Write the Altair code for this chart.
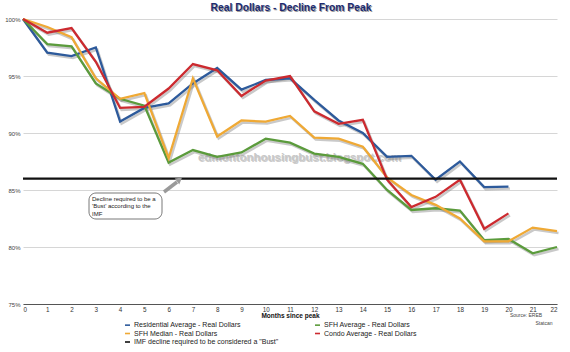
import altair as alt
import pandas as pd

# ---- data ----
title_text = "Real Dollars - Decline From Peak"
name_res = "Residential Average - Real Dollars"
name_sfh_avg = "SFH Average - Real Dollars"
name_sfh_med = "SFH Median  - Real Dollars"
name_condo = "Condo Average - Real Dollars"
name_imf = "IMF decline required to be considered a \"Bust\""

# legend order (filled column by column, two columns)
legend_order = [name_res, name_sfh_med, name_imf, name_sfh_avg, name_condo]
legend_colors = ["#2d5a9b", "#efa935", "#111111", "#5b9b3c", "#cc2a2f"]

residential = [100, 97.05, 96.75, 97.5, 91.0, 92.2, 92.6, 94.35, 95.7, 93.8, 94.65,
               94.8, 92.9, 91.1, 90.0, 87.9, 88.0, 85.9, 87.5, 85.25, 85.3]
sfh_avg = [100, 97.8, 97.6, 94.35, 93.0, 92.4, 87.4, 88.5, 87.9, 88.3, 89.5,
           89.15, 88.2, 87.9, 87.3, 85.0, 83.25, 83.4, 83.2, 80.6, 80.7, 79.45, 80.0]
sfh_median = [100, 99.3, 98.4, 94.8, 93.0, 93.5, 87.8, 94.8, 89.7, 91.1, 91.0,
              91.5, 89.6, 89.5, 88.8, 86.1, 84.56, 83.7, 82.5, 80.5, 80.5, 81.7, 81.4]
condo = [100, 98.8, 99.2, 96.25, 92.2, 92.3, 93.9, 96.05, 95.5, 93.25, 94.6,
         95.0, 91.9, 90.8, 91.15, 85.9, 83.5, 84.4, 85.9, 81.6, 82.95]
imf_level = 86

month_ticks = list(range(23))
y_ticks = [75, 77.5, 80, 82.5, 85, 87.5, 90, 92.5, 95, 97.5, 100]

watermark = "edmontonhousingbust.blogspot.com"
note_lines = ["Decline required to be a", "'Bust' according to the", "IMF"]
source_lines = ["Source: EREB", "Statcan"]

# ---- build table ----
rows = []
for name, vals in [(name_res, residential), (name_sfh_avg, sfh_avg),
                   (name_sfh_med, sfh_median), (name_condo, condo)]:
    for m, v in enumerate(vals):
        rows.append({"series": name, "month": m, "value": v})
df = pd.DataFrame(rows)

FONT = "Liberation Sans"

x_enc = alt.X(
    "month:Q",
    scale=alt.Scale(domain=[0, 22], nice=False),
    axis=alt.Axis(
        values=month_ticks, grid=False, ticks=False, labelFontSize=6.3,
        labelColor="#333", labelPadding=2, domainColor="#555", domainWidth=1,
        title="Months since peak", titleFontSize=6.5, titleFontWeight="bold",
        titleColor="#111", titlePadding=0, labelFont=FONT, titleFont=FONT,
    ),
)
y_enc = alt.Y(
    "value:Q",
    scale=alt.Scale(domain=[75, 100], nice=False, zero=False),
    axis=alt.Axis(
        values=y_ticks, domain=False, ticks=False, gridColor="#d6d6d6",
        gridWidth=1, labelFontSize=6, labelColor="#444", labelPadding=3,
        labelExpr="datum.value % 5 == 0 ? datum.value + '%' : ''",
        title=None, labelFont=FONT,
    ),
)

color_scale = alt.Scale(domain=legend_order, range=legend_colors)

base = alt.Chart(df)
shadow = base.mark_line(color="#777", opacity=0.4, strokeWidth=2.5,
                        xOffset=1.5, yOffset=2).encode(x=x_enc, y=y_enc, detail="series:N")
lines = base.mark_line(strokeWidth=2.3).encode(
    x=x_enc, y=y_enc,
    color=alt.Color(
        "series:N", scale=color_scale,
        legend=alt.Legend(
            title=None, orient="none", legendX=101, legendY=302.5, columns=2,
            symbolType="stroke", symbolSize=25, symbolStrokeWidth=1.6,
            labelFontSize=7, labelColor="#222", labelLimit=300, labelFont=FONT,
            rowPadding=0.5, columnPadding=32, labelOffset=3,
        ),
    ),
)

imf = alt.Chart(pd.DataFrame({"value": [imf_level], "series": [name_imf]})).mark_rule(
    strokeWidth=2.2
).encode(y=alt.Y("value:Q"), color=alt.Color("series:N", scale=color_scale))

one = pd.DataFrame({"a": [0]})

title_shadow = alt.Chart(pd.DataFrame({"t": [title_text]})).mark_text(
    font=FONT, fontSize=10.3, fontWeight="bold", color="#9a9a9a", align="center", baseline="middle"
).encode(x=alt.value(269), y=alt.value(-10), text="t:N")
title_mark = alt.Chart(pd.DataFrame({"t": [title_text]})).mark_text(
    font=FONT, fontSize=10.3, fontWeight="bold", color="#1c2a70", align="center", baseline="middle"
).encode(x=alt.value(268), y=alt.value(-11), text="t:N")

wm_shadow = alt.Chart(pd.DataFrame({"t": [watermark]})).mark_text(
    font=FONT, fontSize=11.5, fontWeight="bold", color="#9c9c9c", opacity=0.5,
    align="center", baseline="middle"
).encode(x=alt.value(277.5), y=alt.value(139.5), text="t:N")
wm = alt.Chart(pd.DataFrame({"t": [watermark]})).mark_text(
    font=FONT, fontSize=11.5, fontWeight="bold", color="#c8c8c8",
    align="center", baseline="middle"
).encode(x=alt.value(276.5), y=alt.value(138.5), text="t:N")

note_box = alt.Chart(one).mark_rect(
    cornerRadius=7, fill="white", stroke="#555", strokeWidth=0.8
).encode(x=alt.value(66), x2=alt.value(139), y=alt.value(174), y2=alt.value(200))
note_text = alt.Chart(pd.DataFrame({"t": [note_lines]})).mark_text(
    font=FONT, fontSize=6, color="#222", align="left", baseline="top", lineHeight=7.5
).encode(x=alt.value(69), y=alt.value(176.5), text="t")

arrow_line = alt.Chart(one).mark_rule(color="#9a9a9a", strokeWidth=3.5).encode(
    x=alt.value(141), x2=alt.value(154), y=alt.value(173), y2=alt.value(163)
)
arrow_head = alt.Chart(one).mark_point(
    shape="triangle-up", filled=True, color="#9a9a9a", opacity=1, size=55, angle=52
).encode(x=alt.value(156.5), y=alt.value(160.5))

source = alt.Chart(pd.DataFrame({"t": [source_lines[0]]})).mark_text(
    font=FONT, fontSize=5, color="#444", align="center", baseline="middle"
).encode(x=alt.value(503), y=alt.value(296), text="t:N")
source2 = alt.Chart(pd.DataFrame({"t": [source_lines[1]]})).mark_text(
    font=FONT, fontSize=5, color="#444", align="center", baseline="middle"
).encode(x=alt.value(521), y=alt.value(304), text="t:N")

chart = alt.layer(
    wm_shadow, wm, shadow, lines, imf, note_box, note_text, arrow_line, arrow_head,
    title_shadow, title_mark, source, source2,
).properties(
    width=534, height=285,
    autosize=alt.AutoSizeParams(type="none"),
    padding={"left": 23, "top": 19, "right": 13, "bottom": 48},
    background="white",
).configure_view(stroke=None)

chart.save("out.html", embed_options={"renderer": "svg", "actions": False})
